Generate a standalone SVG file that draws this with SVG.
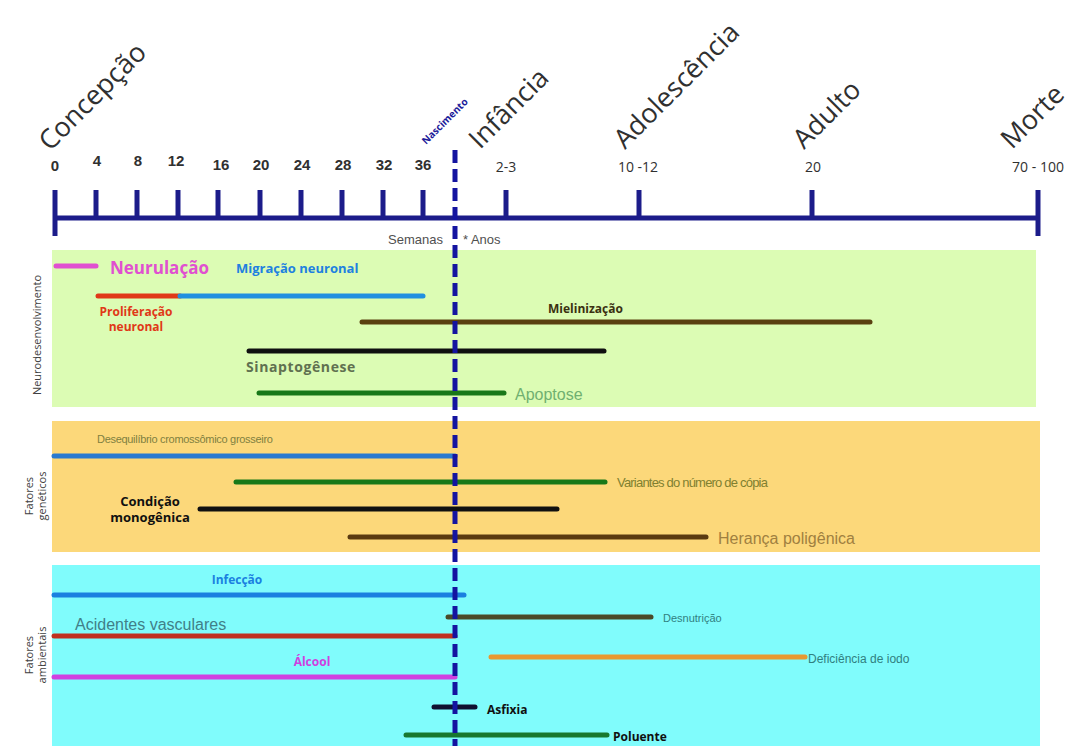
<svg xmlns="http://www.w3.org/2000/svg" width="1084" height="746" viewBox="0 0 1084 746">
<style>
.ax{stroke:#1c1c8a;stroke-width:5;fill:none;stroke-linecap:butt}
.bar{stroke-width:5;stroke-linecap:round;fill:none}
.stage{font-family:"Open Sans","Liberation Sans",sans-serif;font-size:27px;fill:#303030}
.num{font-family:"Liberation Sans",sans-serif;font-size:15px;font-weight:bold;fill:#303030}
.numy{font-family:"Open Sans","Liberation Sans",sans-serif;font-size:14px;fill:#303030}
.side{font-family:"Open Sans","Liberation Sans",sans-serif;font-size:11px;fill:#404040}
.b{font-family:"Open Sans","Liberation Sans",sans-serif;font-weight:bold}
.r{font-family:"Liberation Sans",sans-serif}
</style>
<rect width="1084" height="746" fill="#ffffff"/>
<g id="panels">
<rect x="52" y="250" width="984" height="157" fill="#dcfcb4"/>
<rect x="52" y="421" width="988" height="131" fill="#fcd87a"/>
<rect x="52" y="565" width="988" height="181" fill="#80fcfc"/>
</g>
<g id="axis">
<line class="ax" x1="55" y1="218" x2="1038" y2="218"/>
<line class="ax" x1="55" y1="190" x2="55" y2="236"/>
<line class="ax" x1="96" y1="190" x2="96" y2="218"/>
<line class="ax" x1="137" y1="190" x2="137" y2="218"/>
<line class="ax" x1="178" y1="190" x2="178" y2="218"/>
<line class="ax" x1="218" y1="190" x2="218" y2="218"/>
<line class="ax" x1="260" y1="190" x2="260" y2="218"/>
<line class="ax" x1="301" y1="190" x2="301" y2="218"/>
<line class="ax" x1="342" y1="190" x2="342" y2="218"/>
<line class="ax" x1="383" y1="190" x2="383" y2="218"/>
<line class="ax" x1="423" y1="190" x2="423" y2="218"/>
<line class="ax" x1="506" y1="190" x2="506" y2="218"/>
<line class="ax" x1="639" y1="190" x2="639" y2="218"/>
<line class="ax" x1="812" y1="190" x2="812" y2="218"/>
<line class="ax" x1="1038" y1="190" x2="1038" y2="236"/>
<text class="num" x="55" y="171" text-anchor="middle">0</text>
<text class="num" x="97" y="166" text-anchor="middle">4</text>
<text class="num" x="138" y="166" text-anchor="middle">8</text>
<text class="num" x="176" y="166" text-anchor="middle">12</text>
<text class="num" x="221" y="170" text-anchor="middle">16</text>
<text class="num" x="261" y="170" text-anchor="middle">20</text>
<text class="num" x="302" y="170" text-anchor="middle">24</text>
<text class="num" x="343" y="170" text-anchor="middle">28</text>
<text class="num" x="384" y="170" text-anchor="middle">32</text>
<text class="num" x="423" y="170" text-anchor="middle">36</text>
<text class="numy" x="506" y="172" text-anchor="middle">2-3</text>
<text class="numy" x="638" y="172" text-anchor="middle">10 -12</text>
<text class="numy" x="813" y="172" text-anchor="middle">20</text>
<text class="numy" x="1038" y="172" text-anchor="middle">70 - 100</text>
<text class="stage" transform="translate(50,152) rotate(-45)">Concepção</text>
<text class="stage" transform="translate(480,150) rotate(-45)">Infância</text>
<text class="stage" transform="translate(625,150) rotate(-45)">Adolescência</text>
<text class="stage" transform="translate(804,150) rotate(-45)">Adulto</text>
<text class="stage" transform="translate(1012,150) rotate(-45)">Morte</text>
<text class="b" font-size="10" fill="#1c1c9a" transform="translate(426,145) rotate(-45)">Nascimento</text>
<text class="r" x="443" y="244" font-size="13" fill="#505050" text-anchor="end">Semanas</text>
<text class="r" x="463" y="244" font-size="13" fill="#505050">* Anos</text>
</g>
<g id="side-labels">
<text class="side" transform="translate(41,335) rotate(-90)" text-anchor="middle">Neurodesenvolvimento</text>
<text class="side" transform="translate(33,496) rotate(-90)" text-anchor="middle">Fatores</text>
<text class="side" transform="translate(46,496) rotate(-90)" text-anchor="middle">genéticos</text>
<text class="side" transform="translate(33,655) rotate(-90)" text-anchor="middle">Fatores</text>
<text class="side" transform="translate(46,655) rotate(-90)" text-anchor="middle">ambientais</text>
</g>
<g id="connectors">
<line class="bar" x1="56" y1="266" x2="96" y2="266" stroke="#e050d0"/>
<line class="bar" x1="98" y1="296" x2="180" y2="296" stroke="#e03818"/>
<line class="bar" x1="180" y1="296" x2="423" y2="296" stroke="#2090e0"/>
<line class="bar" x1="362" y1="322" x2="870" y2="322" stroke="#5a4010"/>
<line class="bar" x1="249" y1="351" x2="604" y2="351" stroke="#101010"/>
<line class="bar" x1="259" y1="393" x2="504" y2="393" stroke="#187818"/>
<line class="bar" x1="54" y1="456" x2="455" y2="456" stroke="#2a7ad0"/>
<line class="bar" x1="236" y1="482" x2="605" y2="482" stroke="#187818"/>
<line class="bar" x1="200" y1="509" x2="557" y2="509" stroke="#101010"/>
<line class="bar" x1="350" y1="537" x2="706" y2="537" stroke="#5a3a10"/>
<line class="bar" x1="54" y1="595" x2="464" y2="595" stroke="#1a80e0"/>
<line class="bar" x1="448" y1="617" x2="651" y2="617" stroke="#4a4a28"/>
<line class="bar" x1="54" y1="636" x2="455" y2="636" stroke="#c03020"/>
<line class="bar" x1="491" y1="657" x2="805" y2="657" stroke="#e89830"/>
<line class="bar" x1="54" y1="677" x2="455" y2="677" stroke="#d040e0"/>
<line class="bar" x1="434" y1="707" x2="475" y2="707" stroke="#101030"/>
<line class="bar" x1="406" y1="735" x2="607" y2="735" stroke="#187830"/>
<line x1="455" y1="150" x2="455" y2="746" stroke="#1414a0" stroke-width="5" stroke-dasharray="13,6"/>
</g>
<g id="labels">
<text class="b" x="110" y="274" font-size="17" fill="#e050d0">Neurulação</text>
<text class="b" x="236" y="273" font-size="13" fill="#2080e0">Migração neuronal</text>
<text class="b" x="136" y="316" font-size="12" fill="#e03818" text-anchor="middle">Proliferação</text>
<text class="b" x="136" y="331" font-size="12" fill="#e03818" text-anchor="middle">neuronal</text>
<text class="b" x="548" y="313" font-size="12" fill="#3a3010">Mielinização</text>
<text class="b" x="246" y="372" font-size="14" fill="#607050" letter-spacing="0.6">Sinaptogênese</text>
<text class="r" x="515" y="400" font-size="16" fill="#70b070">Apoptose</text>
<text class="r" x="97" y="443" font-size="11" fill="#808040" letter-spacing="-0.3">Desequilíbrio cromossômico grosseiro</text>
<text class="r" x="617" y="487" font-size="13" fill="#808030" letter-spacing="-0.8">Variantes do número de cópia</text>
<text class="b" x="150" y="506" font-size="13" fill="#101010" text-anchor="middle">Condição</text>
<text class="b" x="150" y="522" font-size="13" fill="#101010" text-anchor="middle">monogênica</text>
<text class="r" x="718" y="544" font-size="16" fill="#a08040">Herança poligênica</text>
<text class="b" x="237" y="584" font-size="12" fill="#1a80e0" text-anchor="middle">Infecção</text>
<text class="r" x="663" y="622" font-size="11" fill="#308080">Desnutrição</text>
<text class="r" x="75" y="630" font-size="16" fill="#408088">Acidentes vasculares</text>
<text class="r" x="808" y="663" font-size="12" fill="#308080">Deficiência de iodo</text>
<text class="b" x="312" y="666" font-size="12" fill="#d040e0" text-anchor="middle">Álcool</text>
<text class="b" x="487" y="714" font-size="12" fill="#101010">Asfixia</text>
<text class="b" x="613" y="741" font-size="12" fill="#101010">Poluente</text>
</g>
</svg>
